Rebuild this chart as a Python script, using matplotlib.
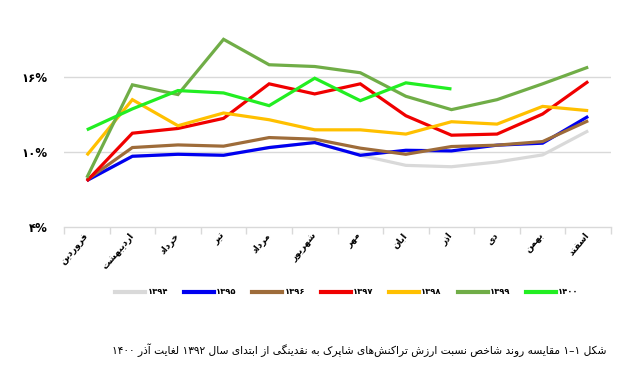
import numpy as np
import matplotlib
matplotlib.use("Agg")
import matplotlib.pyplot as plt
from matplotlib.lines import Line2D

# ---------------- data ----------------
months = ["فروردین", "اردیبهشت", "خرداد", "تیر", "مرداد", "شهریور",
          "مهر", "ابان", "اذر", "دی", "بهمن", "اسفند"]
series_names = ["۱۳۹۴", "۱۳۹۵", "۱۳۹۶", "۱۳۹۷", "۱۳۹۸", "۱۳۹۹", "۱۴۰۰"]
y1394 = [7.70, 9.65, 9.81, 9.73, 10.35, 10.75, 9.73, 8.92, 8.81, 9.19, 9.76, 11.69]
y1395 = [7.70, 9.65, 9.81, 9.73, 10.35, 10.75, 9.73, 10.13, 10.08, 10.54, 10.70, 12.85]
y1396 = [7.75, 10.35, 10.56, 10.46, 11.15, 11.02, 10.30, 9.81, 10.43, 10.54, 10.83, 12.50]
y1397 = [7.66, 11.50, 11.88, 12.69, 15.46, 14.65, 15.46, 12.90, 11.34, 11.43, 13.04, 15.65]
y1398 = [9.73, 14.19, 12.10, 13.12, 12.58, 11.77, 11.77, 11.43, 12.42, 12.23, 13.65, 13.31]
y1399 = [7.93, 15.38, 14.60, 19.03, 16.99, 16.85, 16.35, 14.46, 13.39, 14.19, 15.46, 16.80]
y1400 = [11.77, 13.45, 14.92, 14.73, 13.71, 15.91, 14.11, 15.54, 15.05]
ytick_vals = [4, 10, 16]
ytick_labels = ["۴%", "۱۰%", "۱۶%"]
caption = "شکل ۱–۱ مقایسه روند شاخص نسبت ارزش تراکنش\u200cهای شاپرک به نقدینگی از ابتدای سال ۱۳۹۲ لغایت آذر ۱۴۰۰"

colors = ["#D9D9D9", "#0000F0", "#9E6C3A", "#F00000", "#FFC000", "#70AD47", "#22EE22"]

# ---------------- simple Arabic/Persian shaping ----------------
FORMS = {
    "\u0627": (0xFE8D, 0xFE8E, None, None),
    "\u0622": (0xFE81, 0xFE82, None, None),
    "\u0628": (0xFE8F, 0xFE90, 0xFE91, 0xFE92),
    "\u067E": (0xFB56, 0xFB57, 0xFB58, 0xFB59),
    "\u062A": (0xFE95, 0xFE96, 0xFE97, 0xFE98),
    "\u062B": (0xFE99, 0xFE9A, 0xFE9B, 0xFE9C),
    "\u062C": (0xFE9D, 0xFE9E, 0xFE9F, 0xFEA0),
    "\u0686": (0xFB7A, 0xFB7B, 0xFB7C, 0xFB7D),
    "\u062D": (0xFEA1, 0xFEA2, 0xFEA3, 0xFEA4),
    "\u062E": (0xFEA5, 0xFEA6, 0xFEA7, 0xFEA8),
    "\u062F": (0xFEA9, 0xFEAA, None, None),
    "\u0630": (0xFEAB, 0xFEAC, None, None),
    "\u0631": (0xFEAD, 0xFEAE, None, None),
    "\u0632": (0xFEAF, 0xFEB0, None, None),
    "\u0698": (0xFB8A, 0xFB8B, None, None),
    "\u0633": (0xFEB1, 0xFEB2, 0xFEB3, 0xFEB4),
    "\u0634": (0xFEB5, 0xFEB6, 0xFEB7, 0xFEB8),
    "\u0635": (0xFEB9, 0xFEBA, 0xFEBB, 0xFEBC),
    "\u0636": (0xFEBD, 0xFEBE, 0xFEBF, 0xFEC0),
    "\u0637": (0xFEC1, 0xFEC2, 0xFEC3, 0xFEC4),
    "\u0638": (0xFEC5, 0xFEC6, 0xFEC7, 0xFEC8),
    "\u0639": (0xFEC9, 0xFECA, 0xFECB, 0xFECC),
    "\u063A": (0xFECD, 0xFECE, 0xFECF, 0xFED0),
    "\u0641": (0xFED1, 0xFED2, 0xFED3, 0xFED4),
    "\u0642": (0xFED5, 0xFED6, 0xFED7, 0xFED8),
    "\u06A9": (0xFB8E, 0xFB8F, 0xFB90, 0xFB91),
    "\u06AF": (0xFB92, 0xFB93, 0xFB94, 0xFB95),
    "\u0644": (0xFEDD, 0xFEDE, 0xFEDF, 0xFEE0),
    "\u0645": (0xFEE1, 0xFEE2, 0xFEE3, 0xFEE4),
    "\u0646": (0xFEE5, 0xFEE6, 0xFEE7, 0xFEE8),
    "\u0648": (0xFEED, 0xFEEE, None, None),
    "\u0647": (0xFEE9, 0xFEEA, 0xFEEB, 0xFEEC),
    "\u06CC": (0xFBFC, 0xFBFD, 0xFBFE, 0xFBFF),
}


def shape(text):
    out = []
    n = len(text)
    for i, ch in enumerate(text):
        if ch not in FORMS:
            if ch != "\u200c":
                out.append(ch)
            continue
        iso, fin, ini, med = FORMS[ch]
        prev = text[i - 1] if i > 0 else ""
        nxt = text[i + 1] if i + 1 < n else ""
        jp = prev in FORMS and FORMS[prev][2] is not None
        jn = ini is not None and nxt in FORMS
        if jp and jn:
            cp = med
        elif jp:
            cp = fin
        elif jn:
            cp = ini
        else:
            cp = iso
        out.append(chr(cp))
    s = "".join(out)
    # visual order: reverse, keep digit runs LTR
    rev = s[::-1]
    res, run = [], []
    for ch in rev:
        if ("\u06F0" <= ch <= "\u06F9") or ch.isdigit() or ch == "%":
            run.append(ch)
        else:
            if run:
                res.extend(run[::-1]); run = []
            res.append(ch)
    if run:
        res.extend(run[::-1])
    return "".join(res)


plt.rcParams["font.family"] = ["DejaVu Sans"]

fig = plt.figure(figsize=(6.24, 3.76), dpi=100)
ax = fig.add_axes([64 / 624, 1 - 226.7 / 376, (611 - 64) / 624, (226.7 - 2.3) / 376])

x = np.arange(len(months))
all_series = [y1394, y1395, y1396, y1397, y1398, y1399, y1400]
handles = []
for name, ys, c in zip(series_names, all_series, colors):
    xs = x[:len(ys)]
    ax.plot(xs, ys, color=c, lw=2.3, solid_joinstyle="miter", solid_capstyle="butt")
    handles.append(Line2D([0], [0], color=c, lw=3.0))

ax.set_xlim(-0.5, len(months) - 0.5)
ax.set_ylim(4, 22)
ax.set_yticks(ytick_vals)
ax.set_yticklabels(ytick_labels, fontsize=8.5, fontweight="bold")
ax.tick_params(axis="y", length=0, pad=12)
for yv in ytick_vals[1:]:
    ax.axhline(yv, color="#D9D9D9", lw=1.0, zorder=0)

ax.set_xticks(np.arange(-0.5, len(months), 1.0), minor=False)
ax.set_xticklabels([])
ax.set_xticks(x - 0.08, minor=True)
ax.set_xticklabels([shape(m) for m in months], minor=True, rotation=50,
                   ha="right", va="top", rotation_mode="anchor",
                   fontsize=6.5, fontweight="bold")
ax.tick_params(axis="x", which="major", length=5, color="#D9D9D9", width=1)
ax.tick_params(axis="x", which="minor", length=0, pad=3)

for side in ["top", "right", "left"]:
    ax.spines[side].set_visible(False)
ax.spines["bottom"].set_color("#D9D9D9")
ax.spines["bottom"].set_linewidth(1)

fig.legend(handles, series_names, loc="center", bbox_to_anchor=(347 / 624, 1 - 292 / 376),
           ncol=7, frameon=False, handlelength=3.6, handletextpad=0.25, columnspacing=1.9,
           prop={"size": 6, "weight": "bold"})

fig.text(606 / 624, 1 - 350 / 376, shape(caption), ha="right", va="center", fontsize=7.7)

fig.savefig("out.png", dpi=100)
